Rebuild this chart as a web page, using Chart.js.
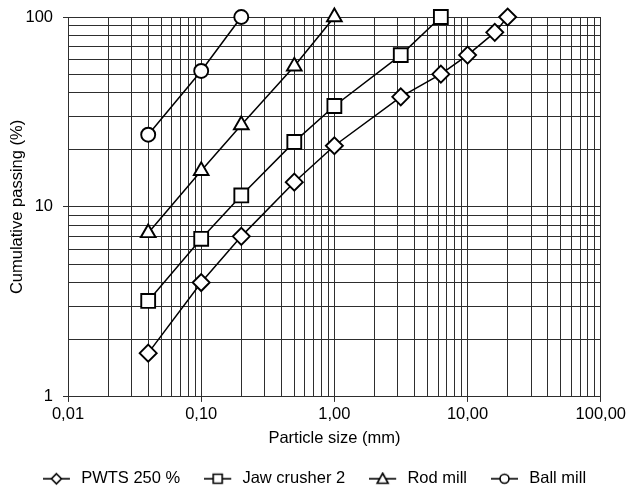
<!DOCTYPE html>
<html>
<head>
<meta charset="utf-8">
<script src="https://cdn.jsdelivr.net/npm/chart.js@4.4.0/dist/chart.umd.min.js"></script>
<style>
  html, body { margin: 0; padding: 0; background: #fff; }
  #wrap { width: 629px; height: 486px; }
</style>
</head>
<body>
<div id="wrap"><canvas id="psdChart"></canvas></div>
<script>
// sieve sizes (mm) and cumulative passing (%)
const pwtsSizes = [0.04, 0.1, 0.2, 0.5, 1, 3.15, 6.3, 10, 16, 20];
const pwtsPassing = [1.7, 4.0, 7.0, 13.5, 21, 38, 50, 63, 83, 100];

const jawSizes = [0.04, 0.1, 0.2, 0.5, 1, 3.15, 6.3];
const jawPassing = [3.2, 6.8, 11.5, 22, 34, 63, 100];

const rodSizes = [0.04, 0.1, 0.2, 0.5, 1];
const rodPassing = [7.3, 15.5, 27, 55, 100];

const ballSizes = [0.04, 0.1, 0.2];
const ballPassing = [24, 52, 100];

const seriesNames = ['PWTS 250 %', 'Jaw crusher 2', 'Rod mill', 'Ball mill'];

const xDecades = [0.01, 0.1, 1, 10, 100];
const xTickLabels = ['0,01', '0,10', '1,00', '10,00', '100,00'];
const yDecades = [1, 10, 100];
const yTickLabels = ['1', '10', '100'];

const FONT = { family: '"Liberation Sans", Arial, sans-serif', size: 16.5 };
const GRID = '#2e2e2e';

function toPoints(xs, ys) {
  return xs.map((x, i) => ({ x: x, y: ys[i] }));
}

// decades plus 2..9 multiples, for the log grid
function logTicks(decades) {
  const out = [];
  decades.forEach((d, i) => {
    out.push({ value: d, major: true });
    if (i < decades.length - 1) {
      for (let m = 2; m <= 9; m++) out.push({ value: d * m, major: false });
    }
  });
  return out;
}

function labelFor(value, decades, labels) {
  const i = decades.findIndex(d => Math.abs(value - d) < d * 1e-6);
  return i >= 0 ? labels[i] : '';
}

// little "line + marker" images for the legend
function legendSymbol(style) {
  const c = document.createElement('canvas');
  c.width = 30; c.height = 14;
  const ctx = c.getContext('2d');
  const cx = 13.5;
  ctx.strokeStyle = '#000';
  ctx.lineWidth = 1.6;
  ctx.beginPath();
  ctx.moveTo(0, 7); ctx.lineTo(27, 7);
  ctx.stroke();
  ctx.fillStyle = '#fff';
  ctx.beginPath();
  if (style === 'circle') ctx.arc(cx, 7, 4.5, 0, Math.PI * 2);
  if (style === 'rect') ctx.rect(cx - 4.5, 2.5, 9, 9);
  if (style === 'triangle') { ctx.moveTo(cx, 1.5); ctx.lineTo(cx + 5.5, 11.5); ctx.lineTo(cx - 5.5, 11.5); ctx.closePath(); }
  if (style === 'rectRot') { ctx.moveTo(cx, 2); ctx.lineTo(cx + 5, 7); ctx.lineTo(cx, 12); ctx.lineTo(cx - 5, 7); ctx.closePath(); }
  ctx.fill();
  ctx.stroke();
  return c;
}

const styles = ['rectRot', 'rect', 'triangle', 'circle'];
const radii = [8.5, 9.8, 8.5, 7];
const allPoints = [
  toPoints(pwtsSizes, pwtsPassing),
  toPoints(jawSizes, jawPassing),
  toPoints(rodSizes, rodPassing),
  toPoints(ballSizes, ballPassing)
];
const symbols = styles.map(legendSymbol);

const datasets = seriesNames.map((name, i) => ({
  label: name,
  data: allPoints[i],
  borderColor: '#000',
  borderWidth: 1.5,
  backgroundColor: '#fff',
  pointStyle: styles[i],
  pointRadius: radii[i],
  pointHoverRadius: radii[i],
  pointBackgroundColor: '#fff',
  pointBorderColor: '#000',
  pointBorderWidth: 1.9,
  tension: 0,
  clip: false
}));

new Chart(document.getElementById('psdChart'), {
  type: 'line',
  data: { datasets: datasets },
  options: {
    responsive: true,
    maintainAspectRatio: false,
    animation: false,
    layout: { padding: { top: 17, right: 0, bottom: -11, left: 0 } },
    plugins: {
      tooltip: { enabled: false },
      legend: {
        position: 'bottom',
        labels: {
          usePointStyle: true,
          pointStyleWidth: 30,
          padding: 24,
          color: '#000',
          font: FONT,
          generateLabels: chart => chart.data.datasets.map((ds, i) => ({
            text: ds.label,
            pointStyle: symbols[i],
            datasetIndex: i,
            fontColor: '#000',
            lineWidth: 0,
            strokeStyle: 'transparent',
            fillStyle: 'transparent'
          }))
        }
      }
    },
    scales: {
      x: {
        type: 'logarithmic',
        min: 0.01,
        max: 100,
        afterBuildTicks: scale => { scale.ticks = logTicks(xDecades); },
        ticks: {
          autoSkip: false,
          maxRotation: 0,
          color: '#000',
          font: FONT,
          padding: 3,
          callback: v => labelFor(v, xDecades, xTickLabels)
        },
        grid: {
          color: GRID,
          lineWidth: 1,
          tickLength: 5,
          tickColor: ctx => (ctx.tick && ctx.tick.major) ? GRID : 'rgba(0,0,0,0)'
        },
        border: { color: GRID },
        title: {
          display: true,
          text: 'Particle size (mm)',
          color: '#000',
          font: FONT,
          padding: { top: 1, bottom: -2 }
        }
      },
      y: {
        type: 'logarithmic',
        min: 1,
        max: 100,
        afterBuildTicks: scale => { scale.ticks = logTicks(yDecades); },
        afterFit: scale => {
          scale.width = 68;
          scale.paddingTop = 0;
          scale.paddingBottom = 0;
        },
        ticks: {
          autoSkip: false,
          color: '#000',
          font: FONT,
          padding: 10,
          callback: v => labelFor(v, yDecades, yTickLabels)
        },
        grid: {
          color: GRID,
          lineWidth: 1,
          tickLength: 5,
          tickColor: ctx => (ctx.tick && ctx.tick.major) ? GRID : 'rgba(0,0,0,0)'
        },
        border: { color: GRID },
        title: {
          display: true,
          text: 'Cumulative passing (%)',
          color: '#000',
          font: FONT,
          padding: { top: 8, bottom: 0 }
        }
      }
    }
  }
});
</script>
</body>
</html>
